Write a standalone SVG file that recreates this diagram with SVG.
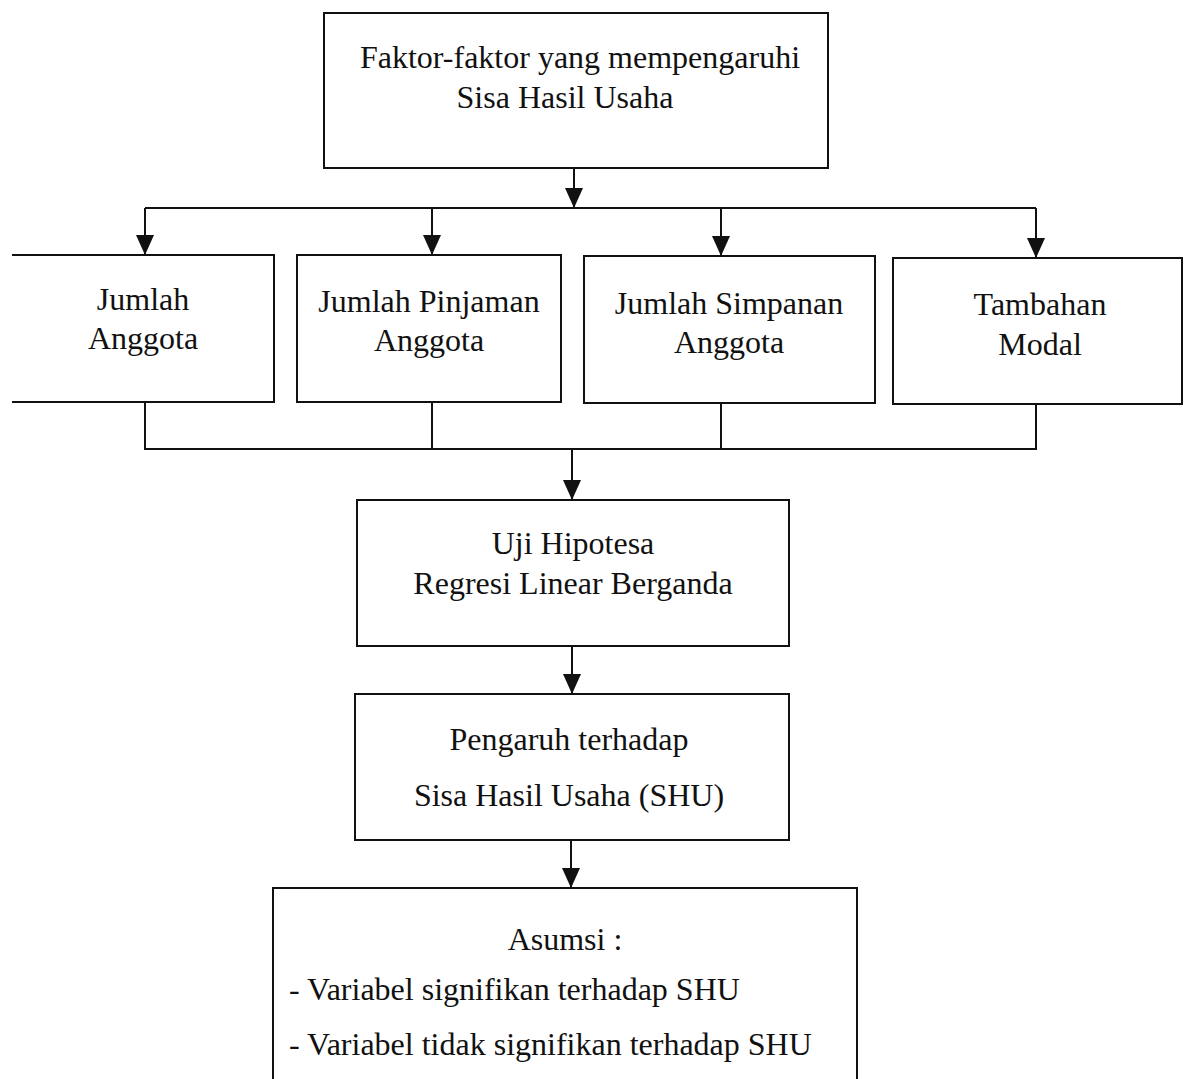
<svg xmlns="http://www.w3.org/2000/svg" width="1186" height="1079" viewBox="0 0 1186 1079">
<style>
.box{fill:none;stroke:#111;stroke-width:2}
.ln{fill:none;stroke:#111;stroke-width:2}
text{font-family:"Liberation Serif","Times New Roman",serif;font-size:32px;fill:#111;text-anchor:middle}
.l{text-anchor:start}
</style>
<defs>
<marker id="ah" viewBox="0 0 20 18" markerWidth="20" markerHeight="18" refX="20" refY="9" orient="auto" markerUnits="userSpaceOnUse">
<path d="M0,0 L20,9 L0,18 Z" fill="#111"/>
</marker>
</defs>
<rect width="1186" height="1079" fill="#fff"/>
<g id="connectors">
<line class="ln" x1="574" y1="168" x2="574" y2="208" marker-end="url(#ah)"/>
<line class="ln" x1="145" y1="208" x2="1036" y2="208"/>
<line class="ln" x1="145" y1="208" x2="145" y2="255" marker-end="url(#ah)"/>
<line class="ln" x1="432" y1="208" x2="432" y2="255" marker-end="url(#ah)"/>
<line class="ln" x1="721" y1="208" x2="721" y2="256" marker-end="url(#ah)"/>
<line class="ln" x1="1036" y1="208" x2="1036" y2="258" marker-end="url(#ah)"/>
<polyline class="ln" points="145,402 145,449 1036,449 1036,404"/>
<line class="ln" x1="432" y1="402" x2="432" y2="449"/>
<line class="ln" x1="721" y1="403" x2="721" y2="449"/>
<line class="ln" x1="572" y1="449" x2="572" y2="500" marker-end="url(#ah)"/>
<line class="ln" x1="572" y1="646" x2="572" y2="694" marker-end="url(#ah)"/>
<line class="ln" x1="571" y1="840" x2="571" y2="888" marker-end="url(#ah)"/>
</g>
<g id="n-top">
<rect class="box" x="324" y="13" width="504" height="155"/>
<text x="580" y="68">Faktor-faktor yang mempengaruhi</text>
<text x="565" y="108">Sisa Hasil Usaha</text>
</g>
<g id="n-jumlah-anggota">
<path class="box" d="M12,255 L274,255 L274,402 L12,402"/>
<text x="143" y="310">Jumlah</text>
<text x="143" y="349">Anggota</text>
</g>
<g id="n-pinjaman">
<rect class="box" x="297" y="255" width="264" height="147"/>
<text x="429" y="312">Jumlah Pinjaman</text>
<text x="429" y="351">Anggota</text>
</g>
<g id="n-simpanan">
<rect class="box" x="584" y="256" width="291" height="147"/>
<text x="729" y="314">Jumlah Simpanan</text>
<text x="729" y="353">Anggota</text>
</g>
<g id="n-modal">
<rect class="box" x="893" y="258" width="289" height="146"/>
<text x="1040" y="315">Tambahan</text>
<text x="1040" y="355">Modal</text>
</g>
<g id="n-uji">
<rect class="box" x="357" y="500" width="432" height="146"/>
<text x="573" y="554">Uji Hipotesa</text>
<text x="573" y="594">Regresi Linear Berganda</text>
</g>
<g id="n-pengaruh">
<rect class="box" x="355" y="694" width="434" height="146"/>
<text x="569" y="750">Pengaruh terhadap</text>
<text x="569" y="806">Sisa Hasil Usaha (SHU)</text>
</g>
<g id="n-asumsi">
<path class="box" d="M273,1079 L273,888 L857,888 L857,1079"/>
<text x="565" y="950">Asumsi :</text>
<text class="l" x="289" y="1000">- Variabel signifikan terhadap SHU</text>
<text class="l" x="289" y="1055">- Variabel tidak signifikan terhadap SHU</text>
</g>
</svg>
